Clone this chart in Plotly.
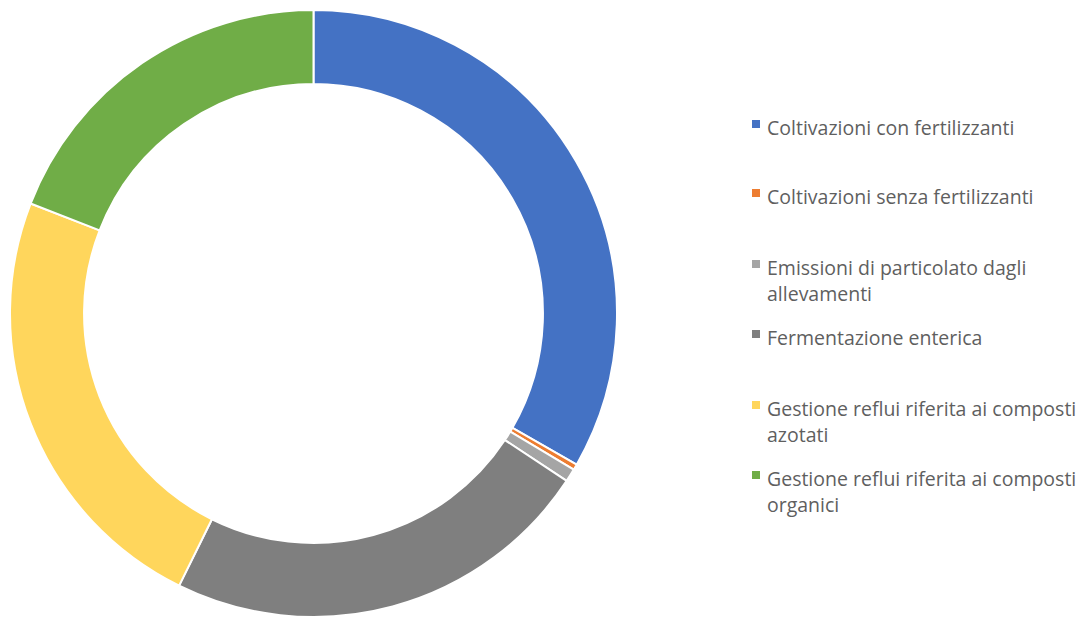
import plotly.graph_objects as go

W, H = 1080, 610  # fits inside the 1088x618 window after the 8px body margin
OFF = 8  # page body margin of the browser
labels = [
    "Coltivazioni con fertilizzanti",
    "Coltivazioni senza fertilizzanti",
    "Emissioni di particolato dagli allevamenti",
    "Fermentazione enterica",
    "Gestione reflui riferita ai composti azotati",
    "Gestione reflui riferita ai composti organici",
]
values = [33.3, 0.3, 0.7, 23.0, 23.6, 19.1]
colors = ["#4472C4", "#ED7D31", "#A5A5A5", "#7F7F7F", "#FFD65C", "#70AD47"]
# legend display lines (wrapped as in the reference)
legend_lines = [
    ["Coltivazioni con fertilizzanti"],
    ["Coltivazioni senza fertilizzanti"],
    ["Emissioni di particolato dagli", "allevamenti"],
    ["Fermentazione enterica"],
    ["Gestione reflui riferita ai composti", "azotati"],
    ["Gestione reflui riferita ai composti", "organici"],
]
legend_y = [127, 196, 267, 337, 408, 478]

r = 303.5
cx, cy = 313.5 - OFF, 313.5 - OFF
mt = cy - r
ph = 2 * r
mb = H - mt - ph

fig = go.Figure(go.Pie(
    labels=labels, values=values, sort=False, direction="clockwise", rotation=0,
    hole=0.756, textinfo="none", hoverinfo="label+percent",
    marker=dict(colors=colors, line=dict(color="white", width=2)),
    domain=dict(x=[(cx - r) / W, (cx + r) / W], y=[0, 1]),
    showlegend=False,
))

def px2paper(px):
    return (px - OFF) / W

def py2paper(py):
    return 1 - (py - OFF - mt) / ph

annotations, shapes = [], []
line_h = 26
for lines, y0, col in zip(legend_lines, legend_y, colors):
    for k, t in enumerate(lines):
        annotations.append(dict(
            x=px2paper(765), y=py2paper(y0 + k * line_h), xref="paper", yref="paper",
            text=t, showarrow=False, xanchor="left", yanchor="middle",
            font=dict(family="Open Sans, sans-serif", size=19.5, color="#5f5f5f"),
        ))
    shapes.append(dict(
        type="rect", xref="paper", yref="paper",
        x0=px2paper(752), x1=px2paper(760), y0=py2paper(y0 + 1), y1=py2paper(y0 - 7),
        fillcolor=col, line=dict(width=0),
    ))

fig.update_layout(
    width=W, height=H, margin=dict(l=0, r=0, t=mt, b=mb),
    paper_bgcolor="white", plot_bgcolor="white",
    annotations=annotations, shapes=shapes,
)
fig.write_html("out.html")
